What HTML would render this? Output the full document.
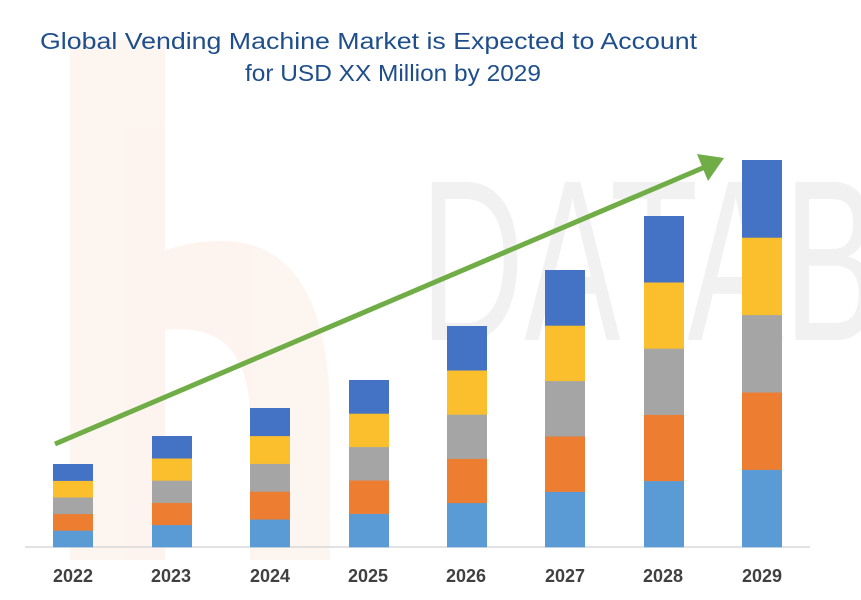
<!DOCTYPE html>
<html><head><meta charset="utf-8"><style>
html,body{margin:0;padding:0;background:#fff;width:861px;height:600px;overflow:hidden}
</style></head><body>
<svg width="861" height="600" xmlns="http://www.w3.org/2000/svg" font-family="Liberation Sans, sans-serif">
<rect width="861" height="600" fill="#fff"/>
<g opacity="0.07">
<rect x="70" y="40" width="95" height="520" fill="#e8762b"/>
<path d="M165 250 Q330 200 330 420 L330 560 L250 560 L250 420 Q250 320 165 330 Z" fill="#e8762b"/>
</g>
<text x="420" y="340" font-size="230" fill="#000" opacity="0.05" textLength="460" lengthAdjust="spacingAndGlyphs">DATAB</text>
<text x="40" y="49" font-size="23" fill="#1f4e8c" textLength="657" lengthAdjust="spacingAndGlyphs">Global Vending Machine Market is Expected to Account</text>
<text x="245" y="81" font-size="23" fill="#1f4e8c" textLength="296" lengthAdjust="spacingAndGlyphs">for USD XX Million by 2029</text>
<line x1="25" y1="547" x2="810" y2="547" stroke="#d9d9d9" stroke-width="1.5"/>
<g id="bars"></g>
<g font-size="18" font-weight="bold" fill="#404040" text-anchor="middle">
<text x="73" y="582" textLength="40" lengthAdjust="spacingAndGlyphs">2022</text><text x="171" y="582" textLength="40" lengthAdjust="spacingAndGlyphs">2023</text><text x="270" y="582" textLength="40" lengthAdjust="spacingAndGlyphs">2024</text><text x="368" y="582" textLength="40" lengthAdjust="spacingAndGlyphs">2025</text><text x="466" y="582" textLength="40" lengthAdjust="spacingAndGlyphs">2026</text><text x="565" y="582" textLength="40" lengthAdjust="spacingAndGlyphs">2027</text><text x="663" y="582" textLength="40" lengthAdjust="spacingAndGlyphs">2028</text><text x="762" y="582" textLength="40" lengthAdjust="spacingAndGlyphs">2029</text>
</g>
<line x1="55" y1="444" x2="705" y2="167" stroke="#70ad47" stroke-width="5"/>
<polygon points="724,158 697,154 708,181" fill="#70ad47"/>
</svg>
<script>
var xs=[53,152,250,349,447,545,644,742],tops=[464,436,408,380,326,270,216,160],cols=["#5b9bd5","#ed7d31","#a5a5a5","#fbbf2d","#4472c4"];
var g=document.getElementById('bars'),s='';
for(var i=0;i<8;i++){var h=(547-tops[i])/5;for(var k=0;k<5;k++){var y=547-(k+1)*h;s+='<rect x="'+xs[i]+'" y="'+y+'" width="40" height="'+(h+0.3)+'" fill="'+cols[k]+'"/>';}}
g.innerHTML=s;
</script>
</body></html>
